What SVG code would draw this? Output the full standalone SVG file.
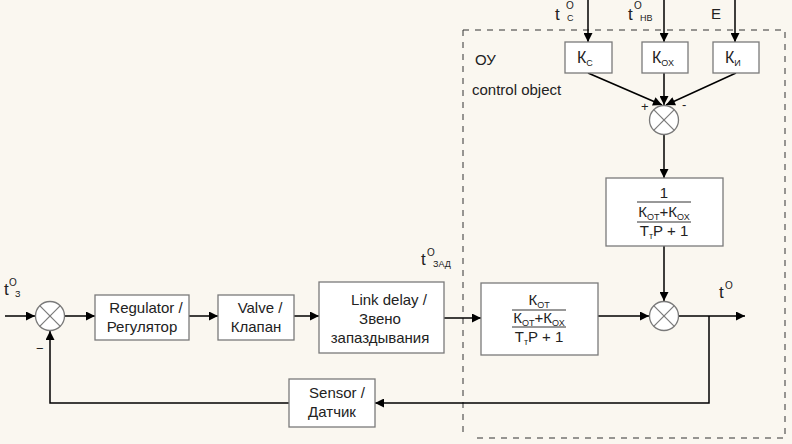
<svg xmlns="http://www.w3.org/2000/svg" width="792" height="444" viewBox="0 0 792 444">
<defs>
<marker id="arr" viewBox="0 0 10 10" refX="10" refY="5" markerWidth="11" markerHeight="9" markerUnits="userSpaceOnUse" orient="auto"><path d="M0,0 L10,5 L0,10 z" fill="#000"/></marker>
<style>
.blk{fill:#fff;stroke:#7a7a7a;stroke-width:1.3}
.sum{fill:#fff;stroke:#7a7a7a;stroke-width:1.3}
.x{stroke:#7a7a7a;stroke-width:1.2}
.ln{fill:none;stroke:#000;stroke-width:1.5}
.fl{stroke:#333;stroke-width:1}
text{font-family:"Liberation Sans",Arial,sans-serif;fill:#222}
.t{font-size:15px}
.m{text-anchor:middle}
.sb{font-size:9px}
.lbl{font-size:17px}
.sup{font-size:10px}
</style>
</defs>
<rect width="792" height="444" fill="#faf7f0"/>
<g id="ou-frame">
<path d="M463,30 H785 V438 H475 M463,30 V438" fill="none" stroke="#333" stroke-width="1" stroke-dasharray="6,6"/>
<text x="475" y="65" style="font-size:15px">ОУ</text>
<text x="472" y="95" style="font-size:15px">control object</text>
</g>
<g id="connectors">
<line class="ln" x1="588" y1="0" x2="588" y2="42" marker-end="url(#arr)"/>
<line class="ln" x1="664" y1="0" x2="664" y2="42" marker-end="url(#arr)"/>
<line class="ln" x1="735" y1="0" x2="735" y2="42" marker-end="url(#arr)"/>
<line class="ln" x1="588" y1="73" x2="662" y2="105" marker-end="url(#arr)"/>
<line class="ln" x1="664" y1="73" x2="664" y2="105" marker-end="url(#arr)"/>
<line class="ln" x1="736" y1="73" x2="666" y2="105" marker-end="url(#arr)"/>
<line class="ln" x1="664" y1="135" x2="664" y2="178" marker-end="url(#arr)"/>
<line class="ln" x1="664" y1="246" x2="664" y2="301" marker-end="url(#arr)"/>
<line class="ln" x1="5" y1="316" x2="35" y2="316" marker-end="url(#arr)"/>
<line class="ln" x1="65" y1="316" x2="95" y2="316" marker-end="url(#arr)"/>
<line class="ln" x1="189" y1="316" x2="218" y2="316" marker-end="url(#arr)"/>
<line class="ln" x1="294" y1="316" x2="319" y2="316" marker-end="url(#arr)"/>
<line class="ln" x1="444" y1="318" x2="481" y2="318" marker-end="url(#arr)"/>
<line class="ln" x1="598" y1="316" x2="649" y2="316" marker-end="url(#arr)"/>
<line class="ln" x1="679" y1="316" x2="745" y2="316" marker-end="url(#arr)"/>
<polyline class="ln" points="709,316 709,403 375,403" marker-end="url(#arr)"/>
<polyline class="ln" points="289,403 50,403 50,331" marker-end="url(#arr)"/>
</g>
<g id="labels">
<text class="lbl" x="555" y="20">t</text><text class="sup" x="566" y="9">O</text><text class="sb" x="567" y="21">C</text>
<text class="lbl" x="628" y="20">t</text><text class="sup" x="634" y="9">O</text><text class="sb" x="640" y="21">НВ</text>
<text x="711" y="19" style="font-size:15px">E</text>
<text class="lbl" x="4" y="295">t</text><text class="sup" x="9" y="286">O</text><text class="sb" x="15" y="297">З</text>
<text class="lbl" x="421" y="265">t</text><text class="sup" x="427" y="256">O</text><text class="sb" x="433" y="267">ЗАД</text>
<text class="lbl" x="719" y="298">t</text><text class="sup" x="725" y="289">O</text>
<text x="641" y="111" style="font-size:13px">+</text>
<text x="682" y="109" style="font-size:13px">-</text>
<text x="36" y="353" style="font-size:13px">−</text>
</g>
<g id="kc"><rect class="blk" x="565" y="42" width="47" height="31"/><text class="t" x="577" y="63" style="font-size:16px">К<tspan class="sb" dy="3">С</tspan></text></g>
<g id="kox"><rect class="blk" x="642" y="42" width="46" height="31"/><text class="t" x="652" y="63" style="font-size:16px">К<tspan class="sb" dy="3">ОХ</tspan></text></g>
<g id="ki"><rect class="blk" x="713" y="42" width="46" height="31"/><text class="t" x="725" y="63" style="font-size:16px">К<tspan class="sb" dy="3">И</tspan></text></g>
<g id="sum-top"><circle class="sum" cx="664" cy="120" r="14.5"/><line class="x" x1="653.7" y1="109.7" x2="674.3" y2="130.3"/><line class="x" x1="674.3" y1="109.7" x2="653.7" y2="130.3"/></g>
<g id="tf-upper">
<rect class="blk" x="606" y="178" width="117" height="68"/>
<text class="t m" x="664" y="198">1</text>
<line class="fl" x1="637" y1="202" x2="691" y2="202"/>
<text class="t m" x="664" y="217">К<tspan class="sb" dy="3">ОТ</tspan><tspan dy="-3">+К</tspan><tspan class="sb" dy="3">ОХ</tspan></text>
<line class="fl" x1="637" y1="222" x2="691" y2="222"/>
<text class="t m" x="664" y="236">Т<tspan class="sb" dy="3">т</tspan><tspan dy="-3">P + 1</tspan></text>
</g>
<g id="sum-right"><circle class="sum" cx="664" cy="316" r="14.5"/><line class="x" x1="653.7" y1="305.7" x2="674.3" y2="326.3"/><line class="x" x1="674.3" y1="305.7" x2="653.7" y2="326.3"/></g>
<g id="sum-left"><circle class="sum" cx="50" cy="316" r="14.5"/><line class="x" x1="39.7" y1="305.7" x2="60.3" y2="326.3"/><line class="x" x1="60.3" y1="305.7" x2="39.7" y2="326.3"/></g>
<g id="regulator"><rect class="blk" x="95" y="295" width="94" height="45"/><text class="t m" x="146" y="313">Regulator /</text><text class="t m" x="142" y="332">Регулятор</text></g>
<g id="valve"><rect class="blk" x="218" y="295" width="76" height="45"/><text class="t m" x="260" y="313">Valve /</text><text class="t m" x="256" y="332">Клапан</text></g>
<g id="delay"><rect class="blk" x="319" y="282" width="125" height="71"/><text class="t m" x="389" y="305">Link delay /</text><text class="t m" x="380" y="324">Звено</text><text class="t m" x="380" y="343">запаздывания</text></g>
<g id="tf-lower">
<rect class="blk" x="481" y="283" width="117" height="72"/>
<text class="t m" x="539" y="305">К<tspan class="sb" dy="3">ОТ</tspan></text>
<line class="fl" x1="512" y1="310" x2="566" y2="310"/>
<text class="t m" x="539" y="323">К<tspan class="sb" dy="3">ОТ</tspan><tspan dy="-3">+К</tspan><tspan class="sb" dy="3">ОХ</tspan></text>
<line class="fl" x1="512" y1="327" x2="566" y2="327"/>
<text class="t m" x="539" y="342">Т<tspan class="sb" dy="3">т</tspan><tspan dy="-3">P + 1</tspan></text>
</g>
<g id="sensor"><rect class="blk" x="289" y="379" width="86" height="48"/><text class="t m" x="337" y="398">Sensor /</text><text class="t m" x="332" y="417">Датчик</text></g>
</svg>
